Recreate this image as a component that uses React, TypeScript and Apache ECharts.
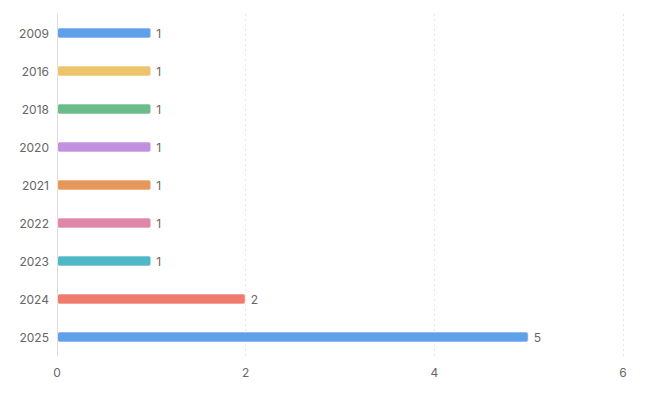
import React, { useEffect, useRef } from "react";
import * as echarts from "echarts";

const years = ["2009", "2016", "2018", "2020", "2021", "2022", "2023", "2024", "2025"];
const counts = [1, 1, 1, 1, 1, 1, 1, 2, 5];
const colors = ["#5fa0e9", "#ebc46b", "#6bbb8b", "#c191e0", "#e6975a", "#e086a9", "#4eb8c9", "#f07a6d", "#5fa0e9"];
const xTicks = [0, 2, 4, 6];

export default function App() {
  const ref = useRef<HTMLDivElement>(null);
  useEffect(() => {
    const chart = echarts.init(ref.current!, null, { renderer: "svg" });
    chart.setOption({
      animation: false,
      textStyle: { fontFamily: "Inter" },
      grid: { left: 57, right: 30, top: 14, bottom: 39, containLabel: false },
      xAxis: {
        type: "value",
        min: xTicks[0],
        max: xTicks[xTicks.length - 1],
        interval: 2,
        axisLine: { show: false },
        axisTick: { show: false },
        axisLabel: { color: "#666", fontSize: 12, margin: 10 },
        splitLine: { show: true, lineStyle: { color: "#e6e6e6", type: [2, 3] } },
      },
      yAxis: {
        type: "category",
        data: years,
        inverse: true,
        axisLine: { show: true, lineStyle: { color: "#dddddd" } },
        axisTick: { show: false },
        axisLabel: { color: "#666", fontSize: 12, margin: 8 },
        splitLine: { show: false },
      },
      series: [
        {
          type: "bar",
          barWidth: 11,
          data: counts.map((v, i) => ({
            value: v,
            itemStyle: { color: colors[i] },
          })),
          itemStyle: { borderRadius: 2, borderColor: "rgba(255,255,255,0.6)", borderWidth: 1 },
          label: { show: true, position: "right", color: "#666", fontSize: 12, distance: 5 },
        },
      ],
    });
    return () => chart.dispose();
  }, []);
  return <div ref={ref} style={{ width: 653, height: 395, margin: -8 }} />;
}
